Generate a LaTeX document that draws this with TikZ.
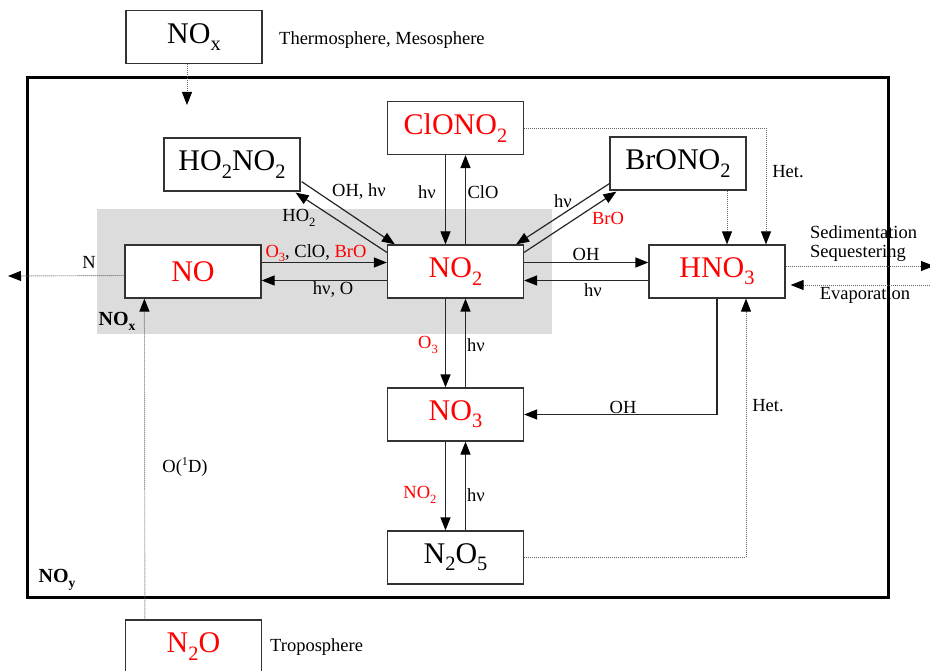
\documentclass[tikz,border=0pt]{standalone}
\usepackage{fontspec}
\usepackage{graphicx}
\setmainfont{Liberation Serif}
\usetikzlibrary{arrows.meta,calc}
\definecolor{chemred}{RGB}{255,0,0}
\definecolor{shadegray}{RGB}{220,220,220}
\newcommand{\sbs}[1]{\raisebox{-0.24em}{\scalebox{0.68}{#1}}}
\newcommand{\sps}[1]{\raisebox{0.38em}{\scalebox{0.65}{#1}}}
\begin{document}
\begin{tikzpicture}[x=1pt,y=-1pt,
  box/.style={draw=black!80,line width=1.2pt,fill=white,minimum width=136pt,minimum height=53pt,inner sep=0pt,font=\fontsize{30}{36}\selectfont},
  lbl/.style={font=\fontsize{18.5}{22}\selectfont,inner sep=0pt},
  bold/.style={font=\fontsize{20}{24}\selectfont\bfseries,inner sep=0pt},
  arr/.style={draw=black!85,line width=1.2pt,-{Triangle[length=13pt,width=10pt,color=black]}},
  dotarr/.style={draw=black!60,line width=0.9pt,dash pattern=on 1pt off 1pt,-{Triangle[length=13pt,width=10pt,color=black]}},
  red/.style={text=chemred}]
\useasboundingbox (0,0) rectangle (930,671);
% shaded NOx region and NOy frame
\fill[shadegray] (97,209) rectangle (552,334);
\draw[line width=3pt] (27,78) rectangle (888,597);
% boxes
\node[box] (noxtop) at (194,37) {NO\sbs{x}};
\node[box] (ho2no2) at (232,164.5) {HO\sbs{2}NO\sbs{2}};
\node[box,red] (clono2) at (455.5,128) {ClONO\sbs{2}};
\node[box] (brono2) at (678,163.5) {BrONO\sbs{2}};
\node[box,red] (no) at (193,271.5) {NO};
\node[box,red] (no2) at (455.5,271.5) {NO\sbs{2}};
\node[box,red] (hno3) at (717,271.5) {HNO\sbs{3}};
\node[box,red] (no3) at (455.5,414.5) {NO\sbs{3}};
\node[box] (n2o5) at (455.5,557.5) {N\sbs{2}O\sbs{5}};
\node[box,red] (n2o) at (193.5,646.5) {N\sbs{2}O};
% free ends
\coordinate (noxend) at (187,105);
\coordinate (nend) at (8,276);
\coordinate (sedend) at (934,266);
\coordinate (evapstart) at (934,285);
% solid connectors
\draw[arr] ([yshift=9pt]no.east) -- ([yshift=9pt]no2.west);
\draw[arr] ([yshift=-9pt]no2.west) -- ([yshift=-9pt]no.east);
\draw[arr] ([yshift=9pt]no2.east) -- ([yshift=9pt]hno3.west);
\draw[arr] ([yshift=-9pt]hno3.west) -- ([yshift=-9pt]no2.east);
\draw[arr] ([xshift=-10pt]clono2.south) -- ([xshift=-10pt]no2.north);
\draw[arr] ([xshift=10pt]no2.north) -- ([xshift=10pt]clono2.south);
\draw[arr] ([xshift=-10pt]no2.south) -- ([xshift=-10pt]no3.north);
\draw[arr] ([xshift=10pt]no3.north) -- ([xshift=10pt]no2.south);
\draw[arr] ([xshift=-10pt]no3.south) -- ([xshift=-10pt]n2o5.north);
\draw[arr] ([xshift=10pt]n2o5.north) -- ([xshift=10pt]no3.south);
\draw[arr] ($(ho2no2.south east)+(1,-10)$) -- ($(no2.north west)+(8,0)$);
\draw[arr] ($(no2.north west)+(0,8)$) -- ($(ho2no2.south east)+(-5,1)$);
\draw[arr] ($(brono2.south west)+(0,-7)$) -- ($(no2.north east)+(-8,0)$);
\draw[arr] ($(no2.north east)+(0,8)$) -- ($(brono2.south west)+(7,1)$);
\draw[arr] (hno3.south) |- (no3.east);
% dotted connectors
\draw[dotarr] (noxtop.south -| noxend) -- (noxend);
\draw[dotarr] ([yshift=-4pt]no.west) -- (nend);
\draw[dotarr] ($(n2o.north west)+(20,0)$) -- ($(no.south west)+(20,0)$);
\draw[dotarr] (clono2.east) -| ($(hno3.north)+(49,0)$);
\coordinate (hb) at ($(hno3.north)+(10,0)$);
\draw[dotarr] (hb |- brono2.south) -- (hb);
\draw[dotarr] (n2o5.east) -| ($(hno3.south)+(29,0)$);
\draw[dotarr] ([yshift=5.5pt]hno3.east) -- (sedend);
\draw[dotarr] (evapstart) -- ($(hno3.east)+(5,13.5)$);
% labels
\node[lbl,anchor=west] (lthermo) at (279,40) {Thermosphere, Mesosphere};
\node[lbl,anchor=west] (ltropo) at (270,647) {Troposphere};
\node[lbl] (lohhv) at (359,192) {OH, hν};
\node[lbl] (lho2) at (299,218) {HO\sbs{2}};
\node[lbl] (lo3clo) at (316,253) {\textcolor{chemred}{O\sbs{3}}, ClO, \textcolor{chemred}{BrO}};
\node[lbl] (lhvo) at (333,290) {hν, O};
\node[lbl] (lhvcl) at (427,192) {hν};
\node[lbl] (lclo) at (483,192) {ClO};
\node[lbl] (lhvbr) at (563,201) {hν};
\node[lbl,red] (lbro) at (608,218) {BrO};
\node[lbl] (loh1) at (586,254) {OH};
\node[lbl] (lhv1) at (593,290) {hν};
\node[lbl] (lhet1) at (788,172) {Het.};
\node[lbl,anchor=west] (lsed) at (810,232) {Sedimentation};
\node[lbl,anchor=west] (lseq) at (810,253) {Sequestering};
\node[lbl] (levap) at (865,295) {Evaporation};
\node[lbl] (ln) at (89,262) {N};
\node[bold] (lnox) at (117,321) {NO\sbs{x}};
\node[bold] (lnoy) at (57,580) {NO\sbs{y}};
\node[lbl,red] (lo3) at (428,345) {O\sbs{3}};
\node[lbl] (lhv2) at (476,345) {hν};
\node[lbl] (loh2) at (623,407) {OH};
\node[lbl] (lhet2) at (768,406) {Het.};
\node[lbl,red] (lno2) at (420,495) {NO\sbs{2}};
\node[lbl] (lhv3) at (476,495) {hν};
\node[lbl] (lo1d) at (185,467) {O(\sps{1}D)};
\end{tikzpicture}
\end{document}
